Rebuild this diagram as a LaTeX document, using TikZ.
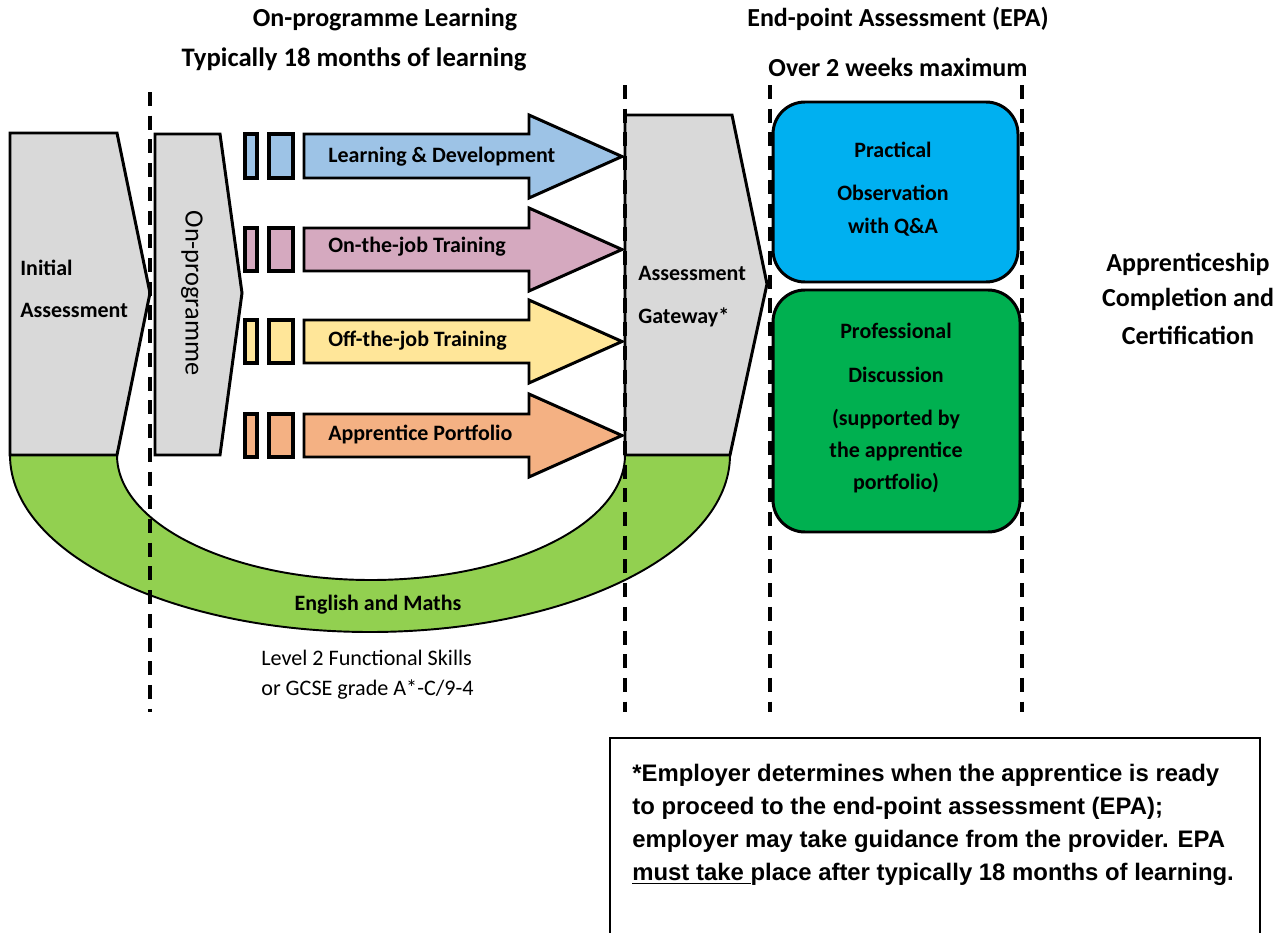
\documentclass[tikz,border=0pt]{standalone}
\usepackage{fontspec}
\setmainfont{Carlito}
\newfontfamily\notefont{Liberation Sans}
\definecolor{greyfill}{HTML}{D9D9D9}
\definecolor{ablue}{HTML}{9DC3E6}
\definecolor{apink}{HTML}{D5A9BF}
\definecolor{ayellow}{HTML}{FFE699}
\definecolor{aorange}{HTML}{F4B183}
\definecolor{arcgreen}{HTML}{92D050}
\definecolor{boxblue}{HTML}{00B0F0}
\definecolor{boxgreen}{HTML}{00B050}
\begin{document}
\begin{tikzpicture}[x=0.02cm,y=-0.02cm,
  shp/.style={draw=black,line width=1.7pt,line join=miter},
  tick/.style={draw=black,line width=2.2pt},
  txt/.style={inner sep=0pt,font=\bfseries\fontsize{12.5}{14}\selectfont,text height=9pt,text depth=2.7pt},
  ttl/.style={inner sep=0pt,font=\bfseries\fontsize{14.8}{16}\selectfont,text height=10.6pt,text depth=3.2pt},
  reg/.style={inner sep=0pt,font=\fontsize{12.6}{14}\selectfont,text height=9pt,text depth=2.7pt},
  sepline/.style={draw=black,line width=2pt,dash pattern=on 8pt off 5.5pt},
  rbox/.style={draw=black,line width=1.7pt,rounded corners=0.64cm}]
\useasboundingbox (0,0) rectangle (1282,933);

% English and Maths arc
\path[draw=black,line width=1.1pt,fill=arcgreen]
  (10,455) .. controls (10,552.8) and (171.2,632) .. (370,632)
  .. controls (568.8,632) and (730,552.8) .. (730,455) -- (625,455)
  .. controls (625,524) and (511.3,580) .. (371,580)
  .. controls (230.7,580) and (117,524) .. (117,455) -- cycle;

% chevrons
\path[shp,fill=greyfill] (10,133) -- (117,133) -- (150,293) -- (117,455) -- (10,455) -- cycle;
\path[shp,fill=greyfill] (155,134) -- (220,134) -- (242,293) -- (220,455) -- (155,455) -- cycle;
\path[shp,fill=greyfill] (625,115) -- (732,115) -- (767,284) -- (730,455) -- (625,455) -- cycle;

% small rectangles and arrows
\foreach \c/\t/\b/\hc in {ablue/134/178/156.5, apink/228/271/249.5, ayellow/320/363/341.5, aorange/414/457/435.5}{
  \path[tick,fill=\c] (245,\t) rectangle (257,\b);
  \path[tick,fill=\c] (269,\t) rectangle (293,\b);
  \path[shp,fill=\c] (304,\t) -- (529,\t) -- (529,\hc-41.5) -- (622,\hc) -- (529,\hc+41.5) -- (529,\b) -- (304,\b) -- cycle;
}

% rounded boxes
\path[rbox,fill=boxblue] (773,102) rectangle (1018,282);
\path[rbox,fill=boxgreen] (773,290) rectangle (1020,532);

% headings
\node[ttl] (h1) at (385,20) {On-programme Learning};
\node[ttl,font=\bfseries\fontsize{15.2}{16}\selectfont] (h2) at (354,60) {Typically 18 months of learning};
\node[ttl] (h3) at (898,20) {End-point Assessment (EPA)};
\node[ttl] (h4) at (898,70) {Over 2 weeks maximum};

% chevron labels
\node[txt,anchor=west] (ia1) at (20,270) {Initial};
\node[txt,anchor=west] (ia2) at (20,312) {Assessment};
\node[inner sep=0pt,font=\fontsize{15}{16}\selectfont,text height=10.6pt,text depth=3.2pt,rotate=-90] (onp) at (192,293) {On-programme};
\node[txt,anchor=west] (ag1) at (638,275) {Assessment};
\node[txt,anchor=west] (ag2) at (638,318) {Gateway*};

% arrow labels
\node[txt,anchor=west] (ld) at (328,157) {Learning \& Development};
\node[txt,anchor=west] (oj) at (328,247) {On-the-job Training};
\node[txt,anchor=west] (fj) at (328,341) {Off-the-job Training};
\node[txt,anchor=west] (ap) at (328,435) {Apprentice Portfolio};

% EPA boxes
\node[txt] (p1) at (893,152) {Practical};
\node[txt] (p2) at (893,195) {Observation};
\node[txt] (p3) at (893,228) {with Q\&A};
\node[txt] (d1) at (896,333) {Professional};
\node[txt] (d2) at (896,377) {Discussion};
\node[txt] (d3) at (896,420) {(supported by};
\node[txt] (d4) at (896,452) {the apprentice};
\node[txt] (d5) at (896,484) {portfolio)};

% completion
\node[ttl] (c1) at (1188,265) {Apprenticeship};
\node[ttl] (c2) at (1188,300) {Completion and};
\node[ttl] (c3) at (1188,338) {Certification};

% English and maths
\node[txt] (em) at (378,605) {English and Maths};
\node[reg,anchor=west] (l1) at (261,660) {Level 2 Functional Skills};
\node[reg,anchor=west] (l2) at (261,690) {or GCSE grade A*-C/9-4};

% dashed separators
\draw[sepline] (150,92) -- (150,712);
\draw[sepline] (625,85) -- (625,712);
\draw[sepline] (770,85) -- (770,712);
\draw[sepline] (1022,85) -- (1022,712);

% note box
\draw[line width=0.9pt] (610,940) -- (610,738) -- (1260,738) -- (1260,940);
\node[inner sep=0pt,anchor=north west,align=left,font=\notefont\bfseries\fontsize{13.6}{18.7}\selectfont] (note) at (632,764)
  {*Employer determines when the apprentice is ready\\
   to proceed to the end-point assessment (EPA);\\
   employer may take guidance from the provider. EPA\\
   \underline{must take\ }place after typically 18 months of learning.};
\end{tikzpicture}
\end{document}
